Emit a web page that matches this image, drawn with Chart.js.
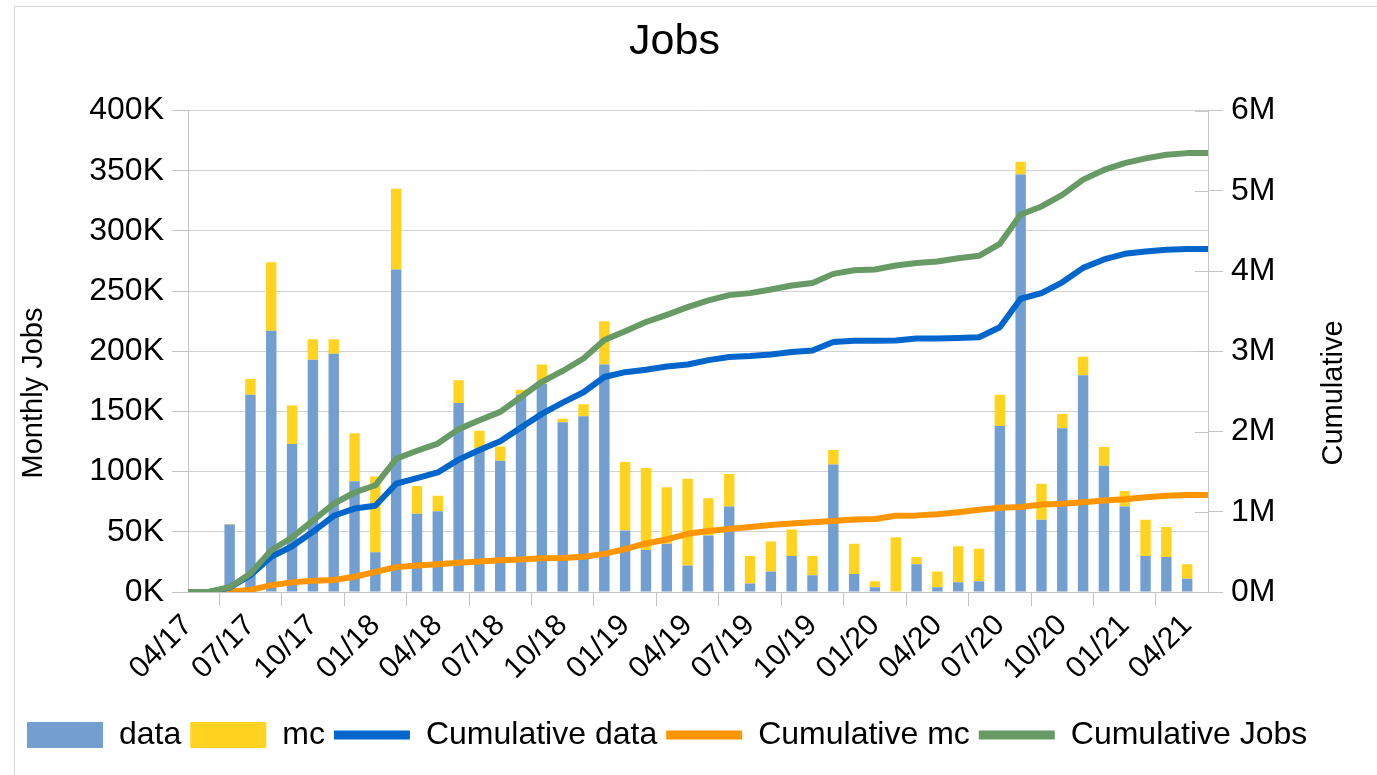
<!DOCTYPE html>
<html>
<head>
<meta charset="utf-8">
<title>Jobs</title>
<script src="https://cdn.jsdelivr.net/npm/chart.js@4.4.1/dist/chart.umd.min.js"></script>
<style>
  html, body { margin: 0; padding: 0; background: #fff; }
  #wrap { position: relative; width: 1377px; height: 775px; overflow: hidden; }
  /* thin frame of the original export (top + left edges only are visible) */
  #frame { position: absolute; left: 14px; top: 6px; width: 1400px; height: 800px;
           border-left: 1px solid #d4d4d4; border-top: 1px solid #d4d4d4; pointer-events: none; }
</style>
</head>
<body>
<div id="wrap">
  <canvas id="chart" width="1377" height="775"></canvas>
  <div id="frame"></div>
</div>
<script>
/* ---------- data (monthly in thousands, cumulative in millions) ---------- */
const months = [
  '04/17', '05/17', '06/17', '07/17', '08/17', '09/17', '10/17', '11/17', '12/17',
  '01/18', '02/18', '03/18', '04/18', '05/18', '06/18', '07/18', '08/18', '09/18', '10/18', '11/18', '12/18',
  '01/19', '02/19', '03/19', '04/19', '05/19', '06/19', '07/19', '08/19', '09/19', '10/19', '11/19', '12/19',
  '01/20', '02/20', '03/20', '04/20', '05/20', '06/20', '07/20', '08/20', '09/20', '10/20', '11/20', '12/20',
  '01/21', '02/21', '03/21', '04/21', '05/21'
];

const dataJobs = [
  0, 0, 56, 164, 217, 123, 193, 198, 92,
  33, 268, 65, 67, 157, 119, 109, 164, 173, 141, 146, 189,
  51, 35, 40, 22, 47, 71, 7, 17, 30, 14, 106, 15,
  4, 0.5, 23, 4, 8, 9, 138, 347, 60, 136, 180, 105,
  71, 30, 29, 11, 0
];

const mcJobs = [
  0, 0, 0.5, 13, 57, 32, 17, 12, 40,
  63, 67, 23, 13, 19, 15, 12, 4, 16, 3, 10, 36,
  57, 68, 47, 72, 31, 27, 23, 25, 22, 16, 12, 25,
  5, 45, 6, 13, 30, 27, 26, 10.5, 30, 12, 15.5, 15.5,
  13, 30, 25, 12, 0
];

const cumData = [
  0, 0, 0.055, 0.21, 0.44, 0.57, 0.75, 0.95, 1.04,
  1.075, 1.35, 1.42, 1.49, 1.65, 1.77, 1.88, 2.05, 2.22, 2.36, 2.49, 2.68,
  2.74, 2.77, 2.81, 2.835, 2.89, 2.93, 2.94, 2.96, 2.99, 3.01, 3.115, 3.13,
  3.13, 3.135, 3.16, 3.16, 3.165, 3.175, 3.30, 3.655, 3.725, 3.86, 4.04, 4.145,
  4.215, 4.245, 4.265, 4.275, 4.275
];

const cumMc = [
  0, 0, 0.005, 0.025, 0.085, 0.12, 0.14, 0.15, 0.19,
  0.25, 0.31, 0.33, 0.345, 0.365, 0.38, 0.395, 0.405, 0.42, 0.425, 0.44, 0.475,
  0.535, 0.605, 0.655, 0.725, 0.76, 0.785, 0.81, 0.835, 0.855, 0.87, 0.885, 0.905,
  0.91, 0.95, 0.955, 0.97, 0.995, 1.025, 1.05, 1.06, 1.09, 1.10, 1.12, 1.14,
  1.155, 1.18, 1.20, 1.21, 1.21
];

const cumJobs = [
  0, 0, 0.06, 0.23, 0.52, 0.68, 0.89, 1.10, 1.24,
  1.33, 1.66, 1.76, 1.85, 2.03, 2.14, 2.245, 2.43, 2.62, 2.755, 2.91, 3.14,
  3.25, 3.365, 3.455, 3.55, 3.635, 3.70, 3.725, 3.77, 3.82, 3.85, 3.965, 4.01,
  4.02, 4.07, 4.10, 4.12, 4.16, 4.19, 4.34, 4.705, 4.805, 4.95, 5.14, 5.26,
  5.345, 5.405, 5.45, 5.47, 5.47
];

/* ---------- look ---------- */
const FONT = "'Liberation Sans', Arial, sans-serif";
const GRID = '#d2d2d2';
const AXIS = '#c4c4c4';
const COLORS = {
  data: '#729fcf',
  mc: '#ffd320',
  cumData: '#0066cc',
  cumMc: '#ff9500',
  cumJobs: '#679a65',
};

// Inward tick marks on the cumulative axis, plus both axis titles.
// Titles are drawn here because the original reads bottom-to-top on BOTH sides
// and centres them on the page rather than on the plot area.
const axisExtras = {
  id: 'axisExtras',
  afterDraw(chart) {
    const s = chart.scales.y1;
    const ctx = chart.ctx;
    ctx.save();
    ctx.strokeStyle = AXIS;
    ctx.lineWidth = 1;
    s.ticks.forEach((t) => {
      const y = Math.round(s.getPixelForValue(t.value)) + 0.5;
      ctx.beginPath();
      ctx.moveTo(s.left - 13, y);
      ctx.lineTo(s.left, y);
      ctx.stroke();
    });

    ctx.fillStyle = '#000';
    ctx.font = '29px ' + FONT;
    ctx.textAlign = 'center';
    ctx.textBaseline = 'middle';
    [['Monthly Jobs', 34], ['Cumulative', 1334]].forEach(([txt, x]) => {
      ctx.save();
      ctx.translate(x, 393);
      ctx.rotate(-Math.PI / 2);
      ctx.fillText(txt, 0, 0);
      ctx.restore();
    });
    ctx.restore();
  },
};

new Chart(document.getElementById('chart'), {
  data: {
    labels: months,
    datasets: [
      { type: 'bar', label: 'data', data: dataJobs, backgroundColor: COLORS.data, yAxisID: 'y', stack: 'jobs', order: 4 },
      { type: 'bar', label: 'mc', data: mcJobs, backgroundColor: COLORS.mc, yAxisID: 'y', stack: 'jobs', order: 4 },
      { type: 'line', label: 'Cumulative data', data: cumData, borderColor: COLORS.cumData, backgroundColor: COLORS.cumData, yAxisID: 'y1', order: 2 },
      { type: 'line', label: 'Cumulative mc', data: cumMc, borderColor: COLORS.cumMc, backgroundColor: COLORS.cumMc, yAxisID: 'y1', order: 3 },
      { type: 'line', label: 'Cumulative Jobs', data: cumJobs, borderColor: COLORS.cumJobs, backgroundColor: COLORS.cumJobs, yAxisID: 'y1', order: 1 },
    ],
  },
  options: {
    responsive: false,
    animation: false,
    layout: { padding: { left: 18, right: 46, top: 0, bottom: 14 } },
    datasets: {
      bar: { barPercentage: 0.5, categoryPercentage: 1.0, borderWidth: 0 },
      line: { borderWidth: 6, pointRadius: 0, tension: 0, fill: false, borderJoinStyle: 'round', borderCapStyle: 'butt' },
    },
    plugins: {
      tooltip: { enabled: false },
      title: {
        display: true,
        text: 'Jobs',
        color: '#000',
        font: { family: FONT, size: 43, weight: 'normal' },
        padding: { top: 16, bottom: 43 },
      },
      legend: {
        position: 'bottom',
        align: 'start',
        labels: {
          color: '#000',
          font: { family: FONT, size: 32 },
          usePointStyle: true,
          pointStyleWidth: 76,
          boxHeight: 26,
          padding: 9,
          generateLabels(chart) {
            const items = Chart.defaults.plugins.legend.labels.generateLabels(chart);
            items.forEach((it) => {
              const ds = chart.data.datasets[it.datasetIndex];
              if (ds.type === 'line') {
                it.pointStyle = 'line';
                it.lineWidth = 9;
                it.strokeStyle = ds.borderColor;
              } else {
                it.pointStyle = 'rect';
                it.lineWidth = 0;
                it.fillStyle = ds.backgroundColor;
              }
            });
            return items.sort((a, b) => a.datasetIndex - b.datasetIndex);
          },
        },
      },
    },
    scales: {
      x: {
        type: 'category',
        stacked: true,
        offset: false,
        grid: { drawOnChartArea: false, color: AXIS, tickLength: 14 },
        border: { color: AXIS },
        ticks: {
          autoSkip: false,
          maxRotation: 45,
          minRotation: 45,
          padding: 2,
          color: '#000',
          font: { family: FONT, size: 30 },
          // label (and tick mark) every third month
          callback(value, index) {
            return index % 3 === 0 ? this.getLabelForValue(value) : null;
          },
        },
        afterFit(scale) { scale.height = 118; },
      },
      y: {
        position: 'left',
        stacked: true,
        min: 0,
        max: 400,
        grid: { color: GRID, tickLength: 16, tickColor: AXIS },
        border: { color: AXIS },
        ticks: {
          stepSize: 50,
          padding: 8,
          color: '#000',
          font: { family: FONT, size: 32 },
          callback: (v) => v + 'K',
        },
        afterFit(scale) { scale.width = 170; },
      },
      y1: {
        position: 'right',
        stacked: false,
        min: 0,
        max: 6,
        grid: { drawOnChartArea: false, color: AXIS, tickLength: 15 },
        border: { color: AXIS },
        ticks: {
          stepSize: 1,
          padding: 8,
          color: '#000',
          font: { family: FONT, size: 32 },
          callback: (v) => v + 'M',
        },
        afterFit(scale) { scale.width = 123; },
      },
    },
  },
  plugins: [axisExtras],
});
</script>
</body>
</html>
